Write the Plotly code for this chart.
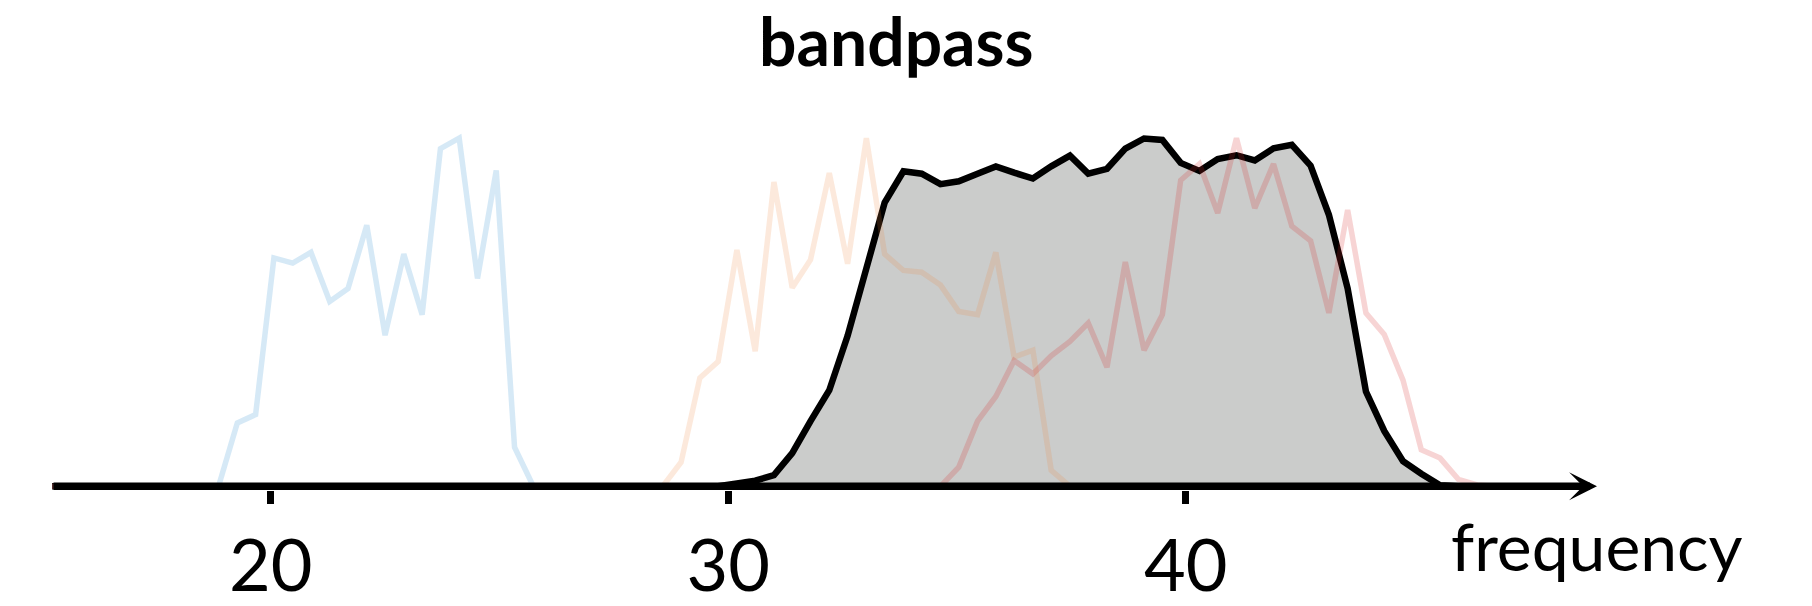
import plotly.graph_objects as go

# Frequency bins shared by every spectrum
freqs = [
    15.22, 15.62, 16.03, 16.43, 16.84, 17.24, 17.65, 18.05, 18.46, 18.86,
    19.27, 19.67, 20.07, 20.48, 20.88, 21.29, 21.69, 22.10, 22.50, 22.91,
    23.31, 23.71, 24.12, 24.52, 24.93, 25.33, 25.74, 26.14, 26.55, 26.95,
    27.36, 27.76, 28.16, 28.57, 28.97, 29.38, 29.78, 30.19, 30.59, 31.00,
    31.40, 31.80, 32.21, 32.61, 33.02, 33.42, 33.83, 34.23, 34.64, 35.04,
    35.45, 35.85, 36.25, 36.66, 37.06, 37.47, 37.87, 38.28, 38.68, 39.09,
    39.49, 39.89, 40.30, 40.70, 41.11, 41.51, 41.92, 42.32, 42.73, 43.13,
    43.54, 43.94, 44.34, 44.75, 45.15, 45.56, 45.96, 46.37, 46.77, 47.18,
    47.58,
]

# Spectrum of the low band signal
low_band = [
    0, 0, 0, 0, 0, 0, 0, 0, 0, 0,
    0.182, 0.206, 0.656, 0.641, 0.672, 0.531, 0.568, 0.750, 0.434, 0.667,
    0.493, 0.970, 1.000, 0.597, 0.907, 0.112, 0, 0, 0, 0,
    0, 0, 0, 0, 0, 0, 0, 0, 0, 0,
    0, 0, 0, 0, 0, 0, 0, 0, 0, 0,
    0, 0, 0, 0, 0, 0, 0, 0, 0, 0,
    0, 0, 0, 0, 0, 0, 0, 0, 0, 0,
    0, 0, 0, 0, 0, 0, 0, 0, 0, 0,
    0,
]

# Spectrum of the middle band signal
mid_band = [
    0, 0, 0, 0, 0, 0, 0, 0, 0, 0,
    0, 0, 0, 0, 0, 0, 0, 0, 0, 0,
    0, 0, 0, 0, 0, 0, 0, 0, 0, 0,
    0, 0, 0, 0, 0.069, 0.311, 0.358, 0.679, 0.388, 0.874,
    0.570, 0.651, 0.900, 0.639, 1.000, 0.667, 0.620, 0.615, 0.578, 0.502,
    0.493, 0.672, 0.371, 0.391, 0.046, 0, 0, 0, 0, 0,
    0, 0, 0, 0, 0, 0, 0, 0, 0, 0,
    0, 0, 0, 0, 0, 0, 0, 0, 0, 0,
    0,
]

# Spectrum of the high band signal
high_band = [
    0, 0, 0, 0, 0, 0, 0, 0, 0, 0,
    0, 0, 0, 0, 0, 0, 0, 0, 0, 0,
    0, 0, 0, 0, 0, 0, 0, 0, 0, 0,
    0, 0, 0, 0, 0, 0, 0, 0, 0, 0,
    0, 0, 0, 0, 0, 0, 0, 0, 0, 0.055,
    0.187, 0.258, 0.361, 0.323, 0.375, 0.416, 0.469, 0.342, 0.644, 0.391,
    0.493, 0.879, 0.926, 0.785, 1.000, 0.799, 0.926, 0.747, 0.705, 0.498,
    0.794, 0.498, 0.436, 0.305, 0.105, 0.081, 0.020, 0.004, 0, 0,
    0,
]

# Response of the bandpass filter
bandpass = [
    0, 0, 0, 0, 0, 0, 0, 0, 0, 0,
    0, 0, 0, 0, 0, 0, 0, 0, 0, 0,
    0, 0, 0, 0, 0, 0, 0, 0, 0, 0,
    0, 0, 0, 0, 0, 0, 0, 0.008, 0.016, 0.032,
    0.095, 0.187, 0.276, 0.432, 0.624, 0.815, 0.905, 0.898, 0.868, 0.876,
    0.898, 0.919, 0.901, 0.884, 0.919, 0.950, 0.898, 0.912, 0.970, 0.999,
    0.995, 0.929, 0.906, 0.940, 0.951, 0.936, 0.971, 0.981, 0.921, 0.780,
    0.568, 0.272, 0.159, 0.072, 0.036, 0.003, 0, 0, 0, 0,
    0,
]

tick_values = [20, 30, 40]
tick_labels = ["20", "30", "40"]

FONT = "Lato"

fig = go.Figure()

# filter response: grey area with a black outline
fig.add_trace(go.Scatter(
    x=freqs, y=bandpass, mode="lines",
    line=dict(color="black", width=6.5),
    fill="tozeroy", fillcolor="#cbcccb",
    hoverinfo="skip",
))

# the three input spectra, faint and drawn over the filter
for values, colour in [
    (low_band, "rgba(50,145,210,0.2)"),
    (mid_band, "rgba(238,133,61,0.18)"),
    (high_band, "rgba(214,39,40,0.2)"),
]:
    fig.add_trace(go.Scatter(
        x=freqs, y=values, mode="lines",
        line=dict(color=colour, width=5.5),
        hoverinfo="skip",
    ))

annotations = [
    # frequency axis drawn as an arrow along zero
    dict(x=48.99, y=0, xref="x", yref="y",
         ax=freqs[0], ay=0, axref="x", ayref="y",
         showarrow=True, arrowhead=3, arrowsize=0.62, arrowwidth=7.5,
         arrowcolor="black", standoff=0, text=""),
    dict(text="frequency", x=48.99, xref="x", y=-0.113, yref="paper",
         xanchor="center", yanchor="middle", showarrow=False,
         font=dict(family=FONT, size=66, color="black")),
    dict(text="<b>bandpass</b>", x=896 / 1812, xref="paper", y=0.9167, yref="paper",
         xanchor="center", yanchor="middle", showarrow=False,
         font=dict(family=FONT, size=66, color="black")),
]

fig.update_layout(
    width=1812, height=606,
    margin=dict(l=0, r=0, t=0, b=107.7),
    paper_bgcolor="white", plot_bgcolor="white",
    showlegend=False,
    annotations=annotations,
    xaxis=dict(
        range=[14.083, 53.69],
        tickmode="array", tickvals=tick_values, ticktext=tick_labels,
        ticks="outside", ticklen=13.4, tickwidth=7, tickcolor="black",
        showgrid=False, zeroline=False, showline=False,
        tickfont=dict(family=FONT, size=72, color="black"),
    ),
    yaxis=dict(visible=False, range=[-0.0107, 1.3969]),
)

fig.write_html("out.html")
